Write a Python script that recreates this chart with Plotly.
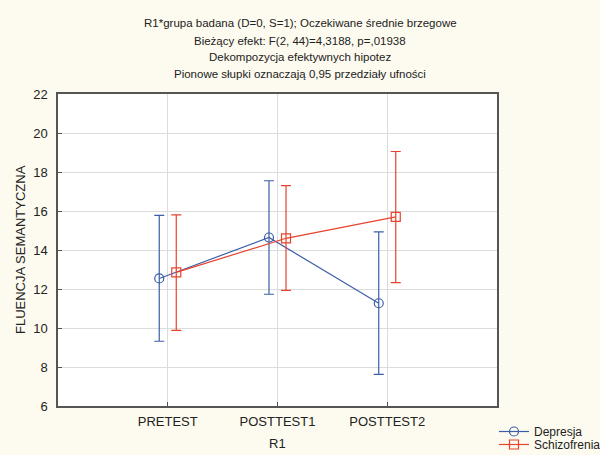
import plotly.graph_objects as go

categories = ["PRETEST", "POSTTEST1", "POSTTEST2"]
dep_mean = [12.54, 14.64, 11.27]
dep_upper = [15.78, 17.55, 14.93]
dep_lower = [9.32, 11.73, 7.62]
sch_mean = [12.85, 14.60, 15.70]
sch_upper = [15.80, 17.30, 19.05]
sch_lower = [9.88, 11.93, 12.33]

title_lines = [
    "R1*grupa badana (D=0, S=1); Oczekiwane średnie brzegowe",
    "Bieżący efekt: F(2, 44)=4,3188, p=,01938",
    "Dekompozycja efektywnych hipotez",
    "Pionowe słupki oznaczają 0,95 przedziały ufności",
]

BLUE = "#3b5ea8"
RED = "#e8432d"
FONT = "Arial, Liberation Sans, sans-serif"

fig = go.Figure()

def add_series(name, mean, upper, lower, color, symbol, legend):
    fig.add_trace(go.Scatter(
        x=categories, y=mean, name=name, mode="lines+markers",
        legend=legend,
        line=dict(color=color, width=1.2),
        marker=dict(symbol=symbol, size=9, color=color,
                    line=dict(color=color, width=1.2)),
        error_y=dict(type="data", symmetric=False,
                     array=[u - m for u, m in zip(upper, mean)],
                     arrayminus=[m - l for m, l in zip(mean, lower)],
                     color=color, thickness=1.2, width=5),
    ))

add_series("Depresja", dep_mean, dep_upper, dep_lower, BLUE, "circle-open", "legend")
add_series("Schizofrenia", sch_mean, sch_upper, sch_lower, RED, "square-open", "legend2")

W, H = 600, 455
L, R, T, B = 58, 103, 94, 49
plot_h = H - T - B
plot_w = W - L - R

def py(pixel_y):
    return (H - B - pixel_y) / plot_h

def px(pixel_x):
    return (pixel_x - L) / plot_w

annotations = []
for i, (line, ypix) in enumerate(zip(title_lines, [23, 41, 57, 74])):
    annotations.append(dict(
        text=line, xref="paper", yref="paper", x=px(300), y=py(ypix),
        xanchor="center", yanchor="middle", showarrow=False,
        font=dict(family=FONT, size=11.5, color="#222222")))
annotations.append(dict(
    text="FLUENCJA SEMANTYCZNA", xref="paper", yref="paper", x=px(20), y=0.5,
    textangle=-90, xanchor="center", yanchor="middle", showarrow=False,
    font=dict(family=FONT, size=13, color="#222222")))
annotations.append(dict(
    text="R1", xref="paper", yref="paper", x=0.5, y=py(443),
    xanchor="center", yanchor="middle", showarrow=False,
    font=dict(family=FONT, size=13, color="#222222")))

legend_style = dict(xref="container", yref="container", xanchor="left", yanchor="top",
                    bgcolor="rgba(0,0,0,0)", font=dict(size=12, color="#222222"),
                    itemwidth=30)

fig.update_layout(
    width=W, height=H,
    margin=dict(l=L, r=R, t=T, b=B, pad=0, autoexpand=False),
    paper_bgcolor="#fdfbef",
    plot_bgcolor="#ffffff",
    font=dict(family=FONT, size=12, color="#222222"),
    scattermode="group",
    scattergap=0.69,
    annotations=annotations,
    legend=dict(x=494 / W, y=1 - 417 / H, **legend_style),
    legend2=dict(x=494 / W, y=1 - 430 / H, **legend_style),
    showlegend=True,
)
fig.update_xaxes(
    type="category", range=[-1, 3], automargin=False,
    showgrid=True, gridcolor="#dcdcdc", gridwidth=1,
    showline=True, linecolor="#555555", linewidth=1.5, mirror=True,
    ticks="inside", ticklen=4, tickcolor="#555555",
    tickfont=dict(size=13, color="#222222"), ticklabelstandoff=3,
)
fig.update_yaxes(
    range=[6, 22], dtick=2, tick0=6, automargin=False,
    showgrid=True, gridcolor="#dcdcdc", gridwidth=1,
    showline=True, linecolor="#555555", linewidth=1.5, mirror=True,
    ticks="inside", ticklen=4, tickcolor="#555555",
    tickfont=dict(size=13, color="#222222"), ticklabelstandoff=6,
    zeroline=False,
)

fig.write_html(
    "out.html",
    config={"displayModeBar": False},
    post_script="document.body.style.margin='0';document.body.style.background='#fdfbef';",
)
